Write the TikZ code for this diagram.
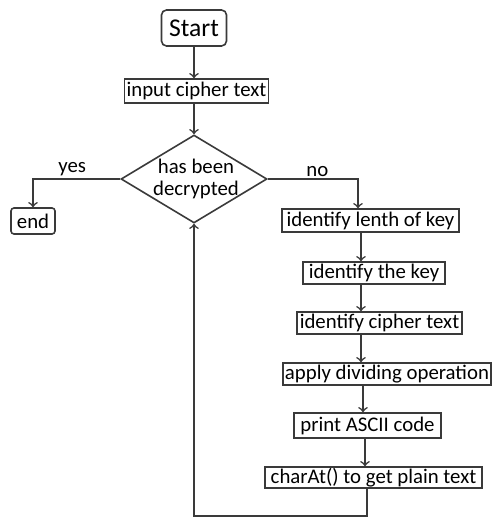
\documentclass[tikz,border=0pt]{standalone}
\usepackage{fontspec}
\setmainfont{Carlito}
\usepackage{xcolor}
\usetikzlibrary{shapes.geometric}
\definecolor{ink}{HTML}{3A3A3A}

\begin{document}
\begin{tikzpicture}[
    x=0.5pt, y=-0.5pt,
    box/.style={rectangle, draw=ink, line width=0.8pt, inner xsep=1pt, inner ysep=0pt,
                text=black, font=\fontsize{10.4}{12}\selectfont},
    term/.style={box, rounded corners=2.5pt},
    decision/.style={diamond, draw=ink, line width=0.8pt, inner sep=0pt,
                     minimum width=73pt, minimum height=44pt},
    lbl/.style={font=\fontsize{10.4}{12}\selectfont, text=black},
    every path/.style={ink, line width=0.8pt}
]
  \useasboundingbox (0,0) rectangle (492,518);

  % start and input
  \node[term, minimum width=32.5pt, minimum height=18pt,
        font=\fontsize{12.8}{14}\selectfont] (start) at (194,28) {Start};
  \node[box, minimum width=71.5pt, minimum height=12pt] (input) at (196.5,91) {input cipher text};

  % decision
  \node[decision] (dec) at (194,179) {};
  \node[lbl, align=center, inner sep=0pt] (dectext) at (196,179) {has been\\[-1pt]decrypted};

  % yes branch
  \node[term, rounded corners=1.5pt, minimum width=22pt, minimum height=13pt] (end) at (33,221) {end};

  % no branch, the steps
  \node[box, minimum width=88.5pt, minimum height=11.5pt] (len)    at (370.5,220.5) {identify lenth of key};
  \node[box, minimum width=71pt,   minimum height=11pt]   (key)    at (374,273)     {identify the key};
  \node[box, minimum width=82.5pt, minimum height=11pt]   (ctext)  at (379.5,323)   {identify cipher text};
  \node[box, minimum width=104pt,  minimum height=11pt]   (apply)  at (387,374)     {apply dividing operation};
  \node[box, minimum width=73.5pt, minimum height=12.5pt] (print)  at (367.5,425.5) {print ASCII code};
  \node[box, minimum width=108.5pt,minimum height=10.5pt] (charat) at (373.5,477.5) {charAt() to get plain text};

  % helper coordinates for the bends
  \coordinate (spine) at (361,0);
  \coordinate (yesbend) at (33,179);
  \coordinate (nobend) at (358,179);
  \coordinate (loopbot) at (367,516);

  \draw[->] (start) -- (start |- input.north);
  \draw[->] (start |- input.south) -- (dec.north);
  \draw[->] (dec.west) -- node[lbl, above, pos=0.55, inner sep=1pt] {yes} (yesbend) -- (end.north -| yesbend);
  \draw[->] (dec.east) -- node[lbl, above, pos=0.55, inner sep=1pt] {no} (nobend) -- (len.north -| nobend);
  \draw[->] (len.south -| spine)   -- (key.north -| spine);
  \draw[->] (key.south -| spine)   -- (ctext.north -| spine);
  \draw[->] (ctext.south -| spine) -- (apply.north -| spine);
  \draw[->] ([xshift=1pt] apply.south -| spine) -- ([xshift=1pt] print.north -| spine);
  \draw[->] ([xshift=2pt] print.south -| spine) -- ([xshift=2pt] charat.north -| spine);

  % loop back to the decision
  \draw[->] (charat.south -| loopbot) -- (loopbot) -| (dec.south);
\end{tikzpicture}
\end{document}
